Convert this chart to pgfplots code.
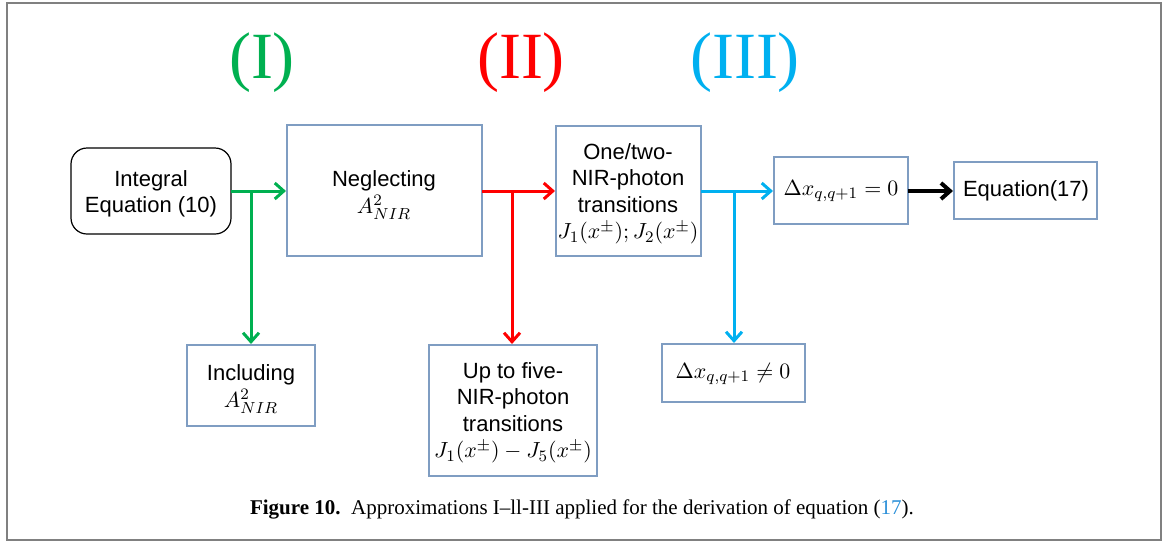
\documentclass[border=0pt]{standalone}
\usepackage{fontspec}
\setmainfont{Liberation Sans}
\newfontfamily\serif{Liberation Serif}
\usepackage{pgfplots}
\pgfplotsset{compat=1.18}
\usetikzlibrary{arrows.meta}
\definecolor{cgreen}{HTML}{00B050}
\definecolor{cred}{HTML}{FF0000}
\definecolor{cblue}{HTML}{00B0F0}
\definecolor{cbox}{HTML}{7F9DC2}
\definecolor{cframe}{HTML}{808080}
\definecolor{clink}{HTML}{2A8FD8}

\tikzset{boxtext/.style={font=\fontsize{11}{13.25}\selectfont, align=center, inner sep=0pt}}

\begin{document}
\begin{tikzpicture}
\begin{axis}[
    width=582.5pt, height=271pt, scale only axis,
    xmin=0, xmax=1165, ymin=0, ymax=542, y dir=reverse,
    hide axis, clip=false,
]
\path (0,0) rectangle (1165,542);
\draw[cframe, line width=1pt] (7,3) rectangle (1161,540);

% approximation labels
\node[font=\serif\fontsize{33}{33}\selectfont, text=cgreen] at (262,63) {(I)};
\node[font=\serif\fontsize{33}{33}\selectfont, text=cred] at (521,63) {(II)};
\node[font=\serif\fontsize{33}{33}\selectfont, text=cblue] at (745,63) {(III)};

% boxes
\draw[black, line width=0.6pt, rounded corners=8pt] (71,148) rectangle (231,234);
\draw[cbox, line width=0.75pt] (287,125) rectangle (482,256);
\draw[cbox, line width=0.75pt] (556,126) rectangle (701,256);
\draw[cbox, line width=0.75pt] (774,157) rectangle (908,224);
\draw[cbox, line width=0.75pt] (954,162) rectangle (1097,219);
\draw[cbox, line width=0.75pt] (187,345) rectangle (315,426);
\draw[cbox, line width=0.75pt] (429,345) rectangle (597,476);
\draw[cbox, line width=0.75pt] (662,344) rectangle (805,402);

% box texts
\node[boxtext] at (151,194) {Integral\\Equation (10)};
\node[boxtext] at (384,195) {Neglecting\\$A^2_{NIR}$};
\node[boxtext] at (628,194) {One/two-\\NIR-photon\\transitions\\$J_1(x^{\pm});J_2(x^{\pm})$};
\node[boxtext] at (841,191) {$\Delta x_{q,q+1}=0$};
\node[boxtext] at (1026,191) {Equation(17)};
\node[boxtext] at (251,389) {Including\\$A^2_{NIR}$};
\node[boxtext] at (513,413) {Up to five-\\NIR-photon\\transitions\\$J_1(x^{\pm})-J_5(x^{\pm})$};
\node[boxtext] at (733,374) {$\Delta x_{q,q+1}\neq 0$};

% arrows
\addplot[cgreen, line width=1.5pt, mark=none, -{Straight Barb[length=4.5pt,width=8pt]}] coordinates {(231,191) (286,191)};
\addplot[cgreen, line width=1.5pt, mark=none, -{Straight Barb[length=4.5pt,width=8pt]}] coordinates {(251,191) (251,344)};
\addplot[cred, line width=1.5pt, mark=none, -{Straight Barb[length=4.5pt,width=8pt]}] coordinates {(482,191) (555,191)};
\addplot[cred, line width=1.5pt, mark=none, -{Straight Barb[length=4.5pt,width=8pt]}] coordinates {(512,191) (512,344)};
\addplot[cblue, line width=1.5pt, mark=none, -{Straight Barb[length=4.5pt,width=8pt]}] coordinates {(701,191) (773,191)};
\addplot[cblue, line width=1.5pt, mark=none, -{Straight Barb[length=4.5pt,width=8pt]}] coordinates {(734,191) (734,343)};
\addplot[black, line width=2pt, mark=none, -{Straight Barb[length=4.5pt,width=8pt]}] coordinates {(908,191) (953,191)};

% caption
\node[font=\serif\fontsize{10.5}{12}\selectfont] at (582,509) {\textbf{Figure 10.}\enspace Approximations I–ll-III applied for the derivation of equation (\textcolor{clink}{17}).};
\end{axis}
\end{tikzpicture}
\end{document}
